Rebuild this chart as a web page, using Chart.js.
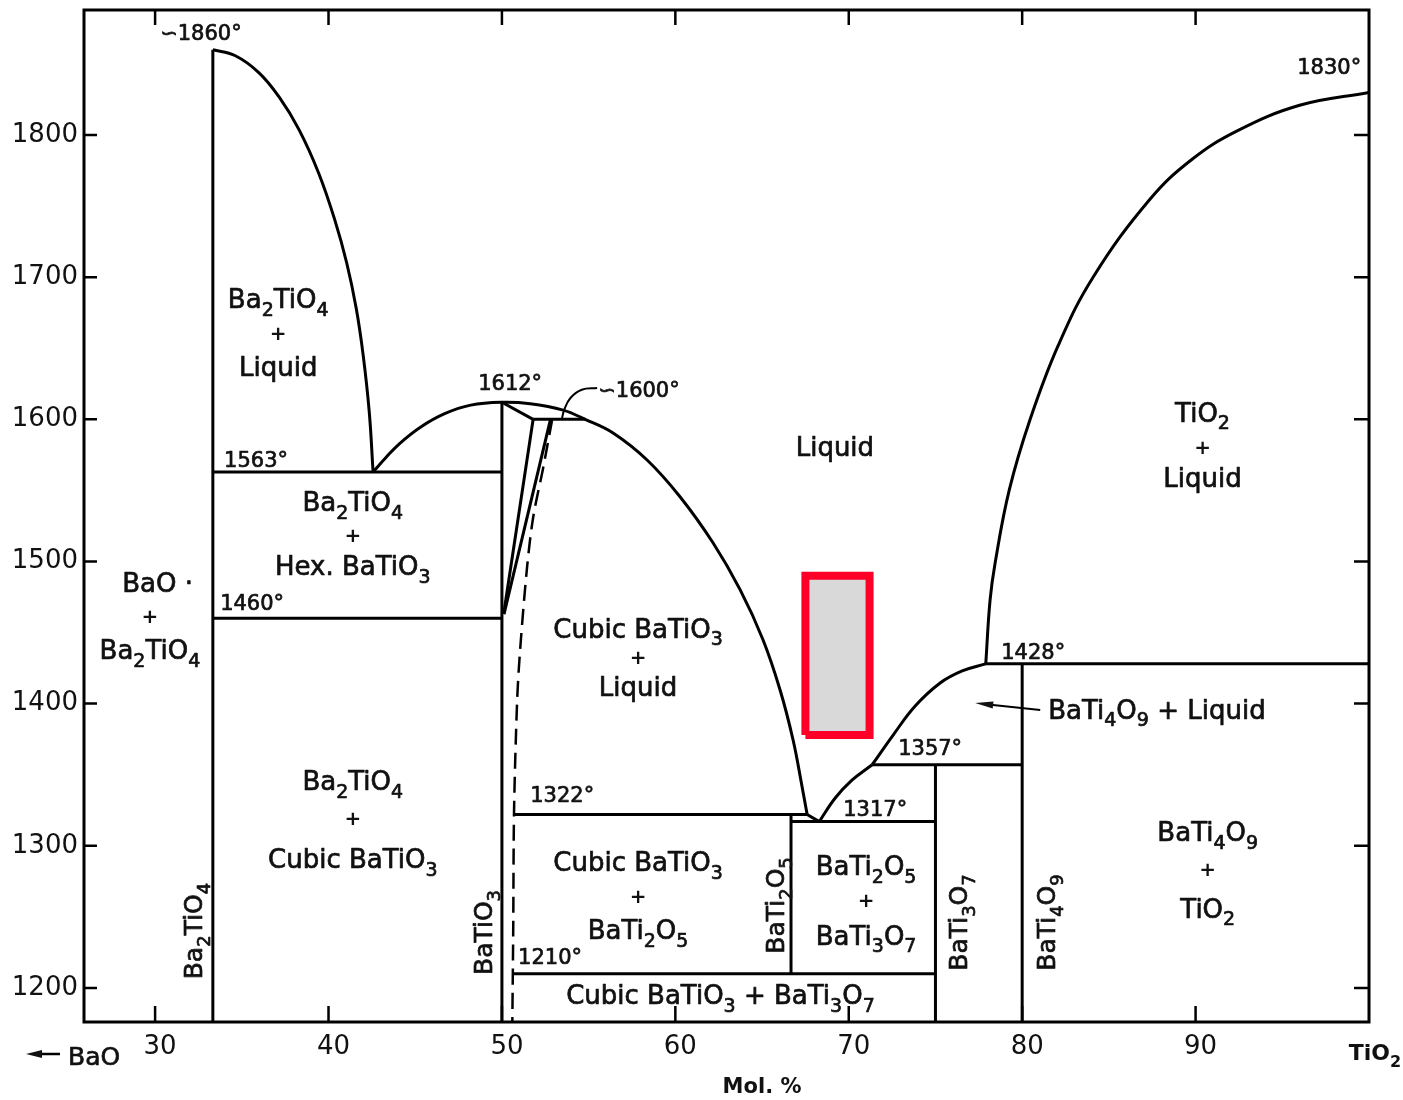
<!DOCTYPE html>
<html>
<head>
<meta charset="utf-8">
<script src="https://cdn.jsdelivr.net/npm/chart.js@4.4.1/dist/chart.umd.min.js"></script>
<style>
  html, body { margin: 0; padding: 0; background: #fff; }
  canvas { display: block; }
</style>
</head>
<body>
<canvas id="diagram" width="1403" height="1100"></canvas>
<script>
// Phase diagram of the BaO–TiO2 system: temperature (°C) against mol % TiO2.

const xTickValues = [30, 40, 50, 60, 70, 80, 90];
const yTickValues = [1200, 1300, 1400, 1500, 1600, 1700, 1800];

// Compound (vertical) lines, [mol % TiO2, °C]
const ba2tio4Line = [[33.33, 1176], [33.33, 1860]];
const batio3Line  = [[50, 1176], [50, 1612]];
const bati2o5Line = [[66.67, 1210], [66.67, 1322]];
const bati3o7Line = [[75, 1176], [75, 1357]];
const bati4o9Line = [[80, 1176], [80, 1428]];

// Invariant (horizontal) lines
const line1563 = [[33.33, 1563], [50, 1563]];
const line1460 = [[33.33, 1460], [50, 1460]];
const line1600 = [[51.8, 1600], [54.8, 1600]];
const line1322 = [[50.65, 1322], [67.6, 1322]];
const line1317 = [[66.67, 1317], [75, 1317]];
const line1210 = [[50.65, 1210], [75, 1210]];
const line1357 = [[71.35, 1357], [80, 1357]];
const line1428 = [[77.9, 1428], [100, 1428]];

// BaTiO3 solid-solution boundaries
const hexCap      = [[50, 1612], [51.8, 1600]];
const hexSolvusA  = [[51.8, 1600], [50.1, 1463]];
const hexSolvusB  = [[52.8, 1600], [50.12, 1463]];
const cubicSolvus = [[52.9, 1600], [52.38, 1566], [51.8, 1531], [51.45, 1496], [51.05, 1438],
                     [50.88, 1403], [50.7, 1325], [50.65, 1239], [50.6, 1176]];
const eutecticLink = [[67.6, 1322], [68.3, 1317]];

// Liquidus curves
const ba2tio4Liquidus = [[33.33, 1860], [34.6, 1856], [35.98, 1844], [37.14, 1827], [38.29, 1804],
                         [39.44, 1773], [40.37, 1740], [41.05, 1710], [41.6, 1678], [42.0, 1645],
                         [42.35, 1605], [42.57, 1563]];
const batio3Liquidus  = [[42.57, 1563], [43.3, 1573], [44.1, 1583], [45.3, 1594.5], [46.7, 1604],
                         [48.2, 1610], [50, 1612], [51.63, 1611], [53.53, 1606.5], [54.8, 1600],
                         [56.41, 1590.4], [58.37, 1571.4], [60.28, 1545.4], [62.18, 1513], [63.74, 1480],
                         [65.06, 1444.8], [66.04, 1409.6], [66.79, 1374.4], [67.3, 1342], [67.6, 1322]];
const bati3o7Liquidus = [[68.3, 1317], [69.22, 1333.6], [70.2, 1346.3], [71.35, 1357]];
const bati4o9Liquidus = [[71.35, 1357], [72.56, 1377.9], [73.83, 1398.3], [75.27, 1414.5],
                         [76.54, 1423], [77.9, 1428]];
const tio2Liquidus    = [[77.9, 1428], [78.15, 1473], [78.44, 1499], [79.25, 1550], [80.46, 1600],
                         [82.08, 1652], [84.09, 1700], [87.38, 1755], [89.8, 1783], [92.4, 1803],
                         [96, 1821], [100, 1830]];

// Leader from the ~1600° note to the curve
const leader1600 = [[55.49, 1622], [54.6, 1620.8], [53.95, 1615], [53.6, 1607], [53.45, 1600]];

// Shaded box
const boxOutline = [[67.5, 1378], [71.2, 1378], [71.2, 1490], [67.5, 1490], [67.5, 1378]];

// Text placed in data coordinates
const fieldLabels = [
  ['Ba₂TiO₄', 37.1, 1685], ['+', 37.1, 1661], ['Liquid', 37.1, 1637],
  ['Ba₂TiO₄', 41.4, 1542], ['+', 41.4, 1519], ['Hex. BaTiO₃', 41.4, 1497],
  ['+', 29.7, 1462], ['Ba₂TiO₄', 29.7, 1438],
  ['Ba₂TiO₄', 41.4, 1346], ['+', 41.4, 1320], ['Cubic BaTiO₃', 41.4, 1291],
  ['Liquid', 69.2, 1581],
  ['TiO₂', 90.4, 1605], ['+', 90.4, 1581], ['Liquid', 90.4, 1559],
  ['Cubic BaTiO₃', 57.85, 1453], ['+', 57.85, 1433], ['Liquid', 57.85, 1412],
  ['Cubic BaTiO₃', 57.85, 1289], ['+', 57.85, 1265], ['BaTi₂O₅', 57.85, 1241],
  ['Cubic BaTiO₃ + BaTi₃O₇', 62.6, 1195],
  ['BaTi₂O₅', 71.0, 1286], ['+', 71.0, 1262], ['BaTi₃O₇', 71.0, 1237],
  ['BaTi₄O₉', 90.7, 1310], ['+', 90.7, 1284], ['TiO₂', 90.7, 1256]
];
const leftLabels = [
  ['BaO ·', 28.1, 1485], ['BaTi₄O₉ + Liquid', 81.5, 1396]
];
const tempLabels = [
  ['∽1860°', 30.29, 1872], ['1830°', 95.86, 1848], ['1563°', 33.98, 1572],
  ['1460°', 33.75, 1471], ['1612°', 48.63, 1626], ['∽1600°', 55.55, 1621],
  ['1322°', 51.63, 1336], ['1210°', 50.93, 1222], ['1317°', 69.68, 1326],
  ['1357°', 72.85, 1369], ['1428°', 78.79, 1437]
];
const compoundLabels = [
  ['Ba₂TiO₄', 32.19, 1240], ['BaTiO₃', 48.92, 1239], ['BaTi₂O₅', 65.76, 1258],
  ['BaTi₃O₇', 76.31, 1246], ['BaTi₄O₉', 81.38, 1246]
];
const pointerArrow = { from: [81.04, 1395.5], to: [77.29, 1400.4] };

const INK = '#111';
const FONT = '"DejaVu Sans", "Liberation Sans", sans-serif';

const SUB = { '₀': '0', '₁': '1', '₂': '2', '₃': '3', '₄': '4', '₅': '5', '₆': '6', '₇': '7', '₈': '8', '₉': '9' };

// Draw a formula string, rendering subscript digits smaller and lowered.
function richText(ctx, str, x, y, size, align = 'center', weight = 'normal', stroke = 0.7) {
  const runs = [];
  for (const ch of str) {
    const sub = ch in SUB;
    const c = sub ? SUB[ch] : ch;
    const last = runs[runs.length - 1];
    if (last && last.sub === sub) last.t += c; else runs.push({ t: c, sub });
  }
  const fN = `${weight} ${size}px ${FONT}`;
  const fS = `${weight} ${Math.round(size * 0.72)}px ${FONT}`;
  let w = 0;
  runs.forEach(r => { ctx.font = r.sub ? fS : fN; r.w = ctx.measureText(r.t).width; w += r.w; });
  let cx = align === 'center' ? x - w / 2 : align === 'right' ? x - w : x;
  const base = y + size * 0.36;
  ctx.textAlign = 'left';
  ctx.textBaseline = 'alphabetic';
  ctx.lineWidth = stroke;
  ctx.strokeStyle = INK;
  ctx.lineJoin = 'round';
  runs.forEach(r => {
    ctx.font = r.sub ? fS : fN;
    const by = r.sub ? base + size * 0.3 : base;
    ctx.fillText(r.t, cx, by);
    if (stroke > 0) ctx.strokeText(r.t, cx, by);
    cx += r.w;
  });
}

function arrow(ctx, x1, y1, x2, y2, len, half) {
  const ang = Math.atan2(y2 - y1, x2 - x1);
  ctx.beginPath();
  ctx.moveTo(x1, y1);
  ctx.lineTo(x2 - Math.cos(ang) * len * 0.6, y2 - Math.sin(ang) * len * 0.6);
  ctx.stroke();
  ctx.beginPath();
  ctx.moveTo(x2, y2);
  ctx.lineTo(x2 - Math.cos(ang) * len - Math.sin(ang) * half, y2 - Math.sin(ang) * len + Math.cos(ang) * half);
  ctx.lineTo(x2 - Math.cos(ang) * len + Math.sin(ang) * half, y2 - Math.sin(ang) * len - Math.cos(ang) * half);
  ctx.closePath();
  ctx.fill();
}

const decor = {
  id: 'decor',
  afterDatasetsDraw(chart) {
    const { ctx, chartArea: a, scales: { x, y } } = chart;
    const X = v => x.getPixelForValue(v);
    const Y = v => y.getPixelForValue(v);
    ctx.save();
    ctx.strokeStyle = '#000';
    ctx.fillStyle = INK;
    ctx.lineCap = 'butt';

    // frame
    ctx.lineWidth = 3;
    ctx.strokeRect(a.left, a.top, a.right - a.left, a.bottom - a.top);

    // inward tick marks on all four sides
    ctx.lineWidth = 2.5;
    ctx.beginPath();
    xTickValues.forEach(v => {
      const px = X(v);
      ctx.moveTo(px, a.bottom); ctx.lineTo(px, a.bottom - 16);
      ctx.moveTo(px, a.top); ctx.lineTo(px, a.top + 15);
    });
    yTickValues.forEach(v => {
      const py = Y(v);
      ctx.moveTo(a.left, py); ctx.lineTo(a.left + 13, py);
      ctx.moveTo(a.right, py); ctx.lineTo(a.right - 15, py);
    });
    ctx.stroke();

    // phase field labels ("+" signs are set smaller and heavier)
    fieldLabels.forEach(([t, vx, vy]) => {
      if (t === '+') richText(ctx, t, X(vx), Y(vy), 20, 'center', 'bold', 0);
      else richText(ctx, t, X(vx), Y(vy), 26, 'center');
    });
    leftLabels.forEach(([t, vx, vy]) => richText(ctx, t, X(vx), Y(vy), 26, 'left'));
    tempLabels.forEach(([t, vx, vy]) => richText(ctx, t, X(vx), Y(vy), 21, 'left'));
    compoundLabels.forEach(([t, vx, vy]) => {
      ctx.save();
      ctx.translate(X(vx), Y(vy));
      ctx.rotate(-Math.PI / 2);
      richText(ctx, t, 0, 0, 25, 'center');
      ctx.restore();
    });

    // pointer to the BaTi4O9 + Liquid field
    ctx.strokeStyle = '#000';
    ctx.lineWidth = 2;
    arrow(ctx, X(pointerArrow.from[0]), Y(pointerArrow.from[1]),
               X(pointerArrow.to[0]), Y(pointerArrow.to[1]), 18, 3.5);

    // end-member labels and axis title
    richText(ctx, 'BaO', a.left - 16, a.bottom + 34, 25, 'left');
    ctx.strokeStyle = '#000';
    ctx.lineWidth = 2.5;
    arrow(ctx, a.left - 24, a.bottom + 32, a.left - 58, a.bottom + 32, 16, 4);
    richText(ctx, 'TiO₂', a.right + 6, a.bottom + 30, 22, 'center', 'bold', 0);
    richText(ctx, 'Mol. %', X(65), a.bottom + 63, 21, 'center', 'bold', 0);
    ctx.restore();
  }
};

const seg = (data, extra = {}) => Object.assign({
  data, showLine: true, borderColor: '#000', borderWidth: 3,
  pointRadius: 0, pointHoverRadius: 0, fill: false, tension: 0
}, extra);
const curve = data => seg(data, { tension: 0.4 });

new Chart(document.getElementById('diagram'), {
  type: 'scatter',
  data: {
    datasets: [
      seg(boxOutline, { borderColor: '#fe0027', borderWidth: 8, backgroundColor: '#d9d9d9',
                        fill: 'shape', borderJoinStyle: 'miter' }),
      seg(ba2tio4Line), seg(batio3Line), seg(bati2o5Line), seg(bati3o7Line), seg(bati4o9Line),
      seg(line1563), seg(line1460), seg(line1600), seg(line1322), seg(line1317),
      seg(line1210), seg(line1357), seg(line1428),
      seg(hexCap), seg(hexSolvusA), seg(hexSolvusB), seg(eutecticLink),
      seg(cubicSolvus, { borderWidth: 2.5, borderDash: [16, 8], tension: 0.3 }),
      curve(ba2tio4Liquidus), curve(batio3Liquidus), curve(bati3o7Liquidus),
      curve(bati4o9Liquidus), curve(tio2Liquidus),
      seg(leader1600, { borderWidth: 2, tension: 0.4 })
    ]
  },
  options: {
    animation: false,
    responsive: false,
    events: [],
    layout: { padding: { top: 10, right: 34, left: 0, bottom: 0 } },
    plugins: { legend: { display: false }, tooltip: { enabled: false } },
    scales: {
      x: {
        type: 'linear', min: 25.9, max: 100,
        grid: { display: false, drawTicks: false },
        border: { display: false },
        afterBuildTicks: s => { s.ticks = xTickValues.map(v => ({ value: v })); },
        afterFit: s => { s.height = 78; s.paddingLeft = 0; s.paddingRight = 0; },
        ticks: { autoSkip: false, maxRotation: 0, padding: 10, labelOffset: 5, color: INK,
                 font: { family: FONT, size: 26 }, callback: v => String(v) }
      },
      y: {
        type: 'linear', min: 1176, max: 1888,
        grid: { display: false, drawTicks: false },
        border: { display: false },
        afterBuildTicks: s => { s.ticks = yTickValues.map(v => ({ value: v })); },
        afterFit: s => { s.width = 84; s.paddingTop = 0; s.paddingBottom = 0; },
        ticks: { autoSkip: false, padding: 6, color: INK,
                 font: { family: FONT, size: 26 }, callback: v => String(v) }
      }
    }
  },
  plugins: [decor]
});
</script>
</body>
</html>
